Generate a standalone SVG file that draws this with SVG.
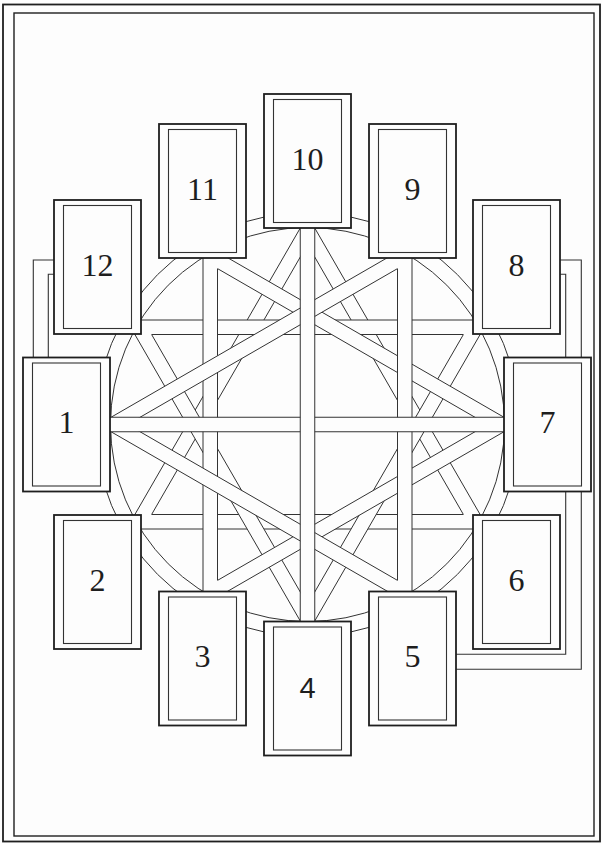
<svg xmlns="http://www.w3.org/2000/svg" width="602" height="843" viewBox="0 0 602 843">
  <style>
    .bg { fill: #fdfdfd; }
    .frame { fill: none; stroke: #1f1f1f; }
    .ring { fill: none; stroke: #333; stroke-width: 1; }
    .band polygon, .band rect { fill: #fdfdfd; stroke: none; }
    .band path { fill: none; stroke: #333; stroke-width: 1; }
    .side { fill: none; stroke: #333; stroke-width: 1.1; }
    .card-o { fill: #fdfdfd; stroke: #1e1e1e; stroke-width: 1.8; }
    .card-i { fill: none; stroke: #333; stroke-width: 1.1; }
    .num { font-family: "Liberation Serif", "Times New Roman", serif; font-size: 32px; fill: #1e1e1e; text-anchor: middle; }
    .num4 { font-family: "Liberation Sans", Arial, sans-serif; font-size: 29px; fill: #1e1e1e; text-anchor: middle; }
  </style>
  <rect class="bg" x="0" y="0" width="602" height="843"/>
  <rect class="frame" x="3" y="4.5" width="597" height="837" stroke-width="1.8"/>
  <rect class="frame" x="14" y="13" width="580" height="823" stroke-width="1.4"/>

  <g id="connectors">
    <circle class="ring" cx="307.5" cy="424.5" r="212"/>
    <circle class="ring" cx="307.5" cy="424.5" r="197"/>
    <path class="side" d="M54,260 H33.3 V362 M54,274.3 H48.3 V362 M560,260 H581.3 V362 M560,274.3 H565.7 V362 M565.7,488 V654.3 H452 M581.3,488 V669.3 H452"/>

    <g id="triC">
      <g class="band" id="C102"><polygon points="307.5,215.5 126.5,529 151.6,514.5 307.5,244.5"/><path d="M307.5,215.5 L126.5,529 M307.5,244.5 L151.6,514.5"/></g>
      <g class="band" id="C26"><polygon points="126.5,529 488.5,529 463.4,514.5 151.6,514.5"/><path d="M126.5,529 H488.5 M151.6,514.5 H463.4"/></g>
      <g class="band" id="C610"><polygon points="488.5,529 307.5,215.5 307.5,244.5 463.4,514.5"/><path d="M488.5,529 L307.5,215.5 M463.4,514.5 L307.5,244.5"/></g>
    </g>
    <g id="triD">
      <g class="band" id="D128"><polygon points="126.5,320 488.5,320 463.4,334.5 151.6,334.5"/><path d="M126.5,320 H488.5 M151.6,334.5 H463.4"/></g>
      <g class="band" id="D84"><polygon points="488.5,320 307.5,633.5 307.5,604.5 463.4,334.5"/><path d="M488.5,320 L307.5,633.5 M463.4,334.5 L307.5,604.5"/></g>
      <g class="band" id="D412"><polygon points="307.5,633.5 126.5,320 151.6,334.5 307.5,604.5"/><path d="M307.5,633.5 L126.5,320 M307.5,604.5 L151.6,334.5"/></g>
    </g>
    <g id="triB">
      <g class="band" id="B117"><polygon points="203,243.5 516.5,424.5 487.5,424.5 217.5,268.6"/><path d="M203,243.5 L516.5,424.5 M217.5,268.6 L487.5,424.5"/></g>
      <g class="band" id="B73"><polygon points="516.5,424.5 203,605.5 217.5,580.4 487.5,424.5"/><path d="M516.5,424.5 L203,605.5 M487.5,424.5 L217.5,580.4"/></g>
      <g class="band" id="B311"><polygon points="203,605.5 203,243.5 217.5,268.6 217.5,580.4"/><path d="M203,243.5 V605.5 M217.5,268.6 V580.4"/></g>
    </g>
    <g id="triA">
      <g class="band" id="A19"><polygon points="98.5,424.5 412,243.5 397.5,268.6 127.5,424.5"/><path d="M98.5,424.5 L412,243.5 M127.5,424.5 L397.5,268.6"/></g>
      <g class="band" id="A95"><polygon points="412,243.5 412,605.5 397.5,580.4 397.5,268.6"/><path d="M412,243.5 V605.5 M397.5,268.6 V580.4"/></g>
      <g class="band" id="A51"><polygon points="412,605.5 98.5,424.5 127.5,424.5 397.5,580.4"/><path d="M412,605.5 L98.5,424.5 M397.5,580.4 L127.5,424.5"/></g>
    </g>
    <g class="band" id="H0"><rect x="105" y="417.25" width="404" height="14.5"/><path d="M105,417.25 H509 M105,431.75 H509"/></g>
    <g class="band" id="V0"><rect x="300.25" y="222" width="14.5" height="405"/><path d="M300.25,222 V627 M314.75,222 V627"/></g>
  </g>

  <g id="card10"><rect class="card-o" x="264" y="94" width="87" height="134"/><rect class="card-i" x="273.5" y="99.5" width="68" height="123"/><text class="num" x="307.5" y="170">10</text></g>
  <g id="card11"><rect class="card-o" x="159" y="124" width="87" height="134"/><rect class="card-i" x="168.5" y="129.5" width="68" height="123"/><text class="num" x="202.5" y="199.5">11</text></g>
  <g id="card9"><rect class="card-o" x="369" y="124" width="87" height="134"/><rect class="card-i" x="378.5" y="129.5" width="68" height="123"/><text class="num" x="412.5" y="199.5">9</text></g>
  <g id="card12"><rect class="card-o" x="54" y="200" width="87" height="134"/><rect class="card-i" x="63.5" y="205.5" width="68" height="123"/><text class="num" x="97.5" y="275.5">12</text></g>
  <g id="card8"><rect class="card-o" x="473" y="200" width="87" height="134"/><rect class="card-i" x="482.5" y="205.5" width="68" height="123"/><text class="num" x="516.5" y="275.5">8</text></g>
  <g id="card1"><rect class="card-o" x="23" y="357.5" width="87" height="134"/><rect class="card-i" x="32.5" y="363" width="68" height="123"/><text class="num" x="66.5" y="433">1</text></g>
  <g id="card7"><rect class="card-o" x="504" y="357.5" width="87" height="134"/><rect class="card-i" x="513.5" y="363" width="68" height="123"/><text class="num" x="547.5" y="433">7</text></g>
  <g id="card2"><rect class="card-o" x="54" y="515" width="87" height="134"/><rect class="card-i" x="63.5" y="520.5" width="68" height="123"/><text class="num" x="97.5" y="590.5">2</text></g>
  <g id="card6"><rect class="card-o" x="473" y="515" width="87" height="134"/><rect class="card-i" x="482.5" y="520.5" width="68" height="123"/><text class="num" x="516.5" y="590.5">6</text></g>
  <g id="card3"><rect class="card-o" x="159" y="591.5" width="87" height="134"/><rect class="card-i" x="168.5" y="597" width="68" height="123"/><text class="num" x="202.5" y="667">3</text></g>
  <g id="card5"><rect class="card-o" x="369" y="591.5" width="87" height="134"/><rect class="card-i" x="378.5" y="597" width="68" height="123"/><text class="num" x="412.5" y="667">5</text></g>
  <g id="card4"><rect class="card-o" x="264" y="621.5" width="87" height="134"/><rect class="card-i" x="273.5" y="627" width="68" height="123"/><text class="num4" x="307.5" y="698">4</text></g>
</svg>
